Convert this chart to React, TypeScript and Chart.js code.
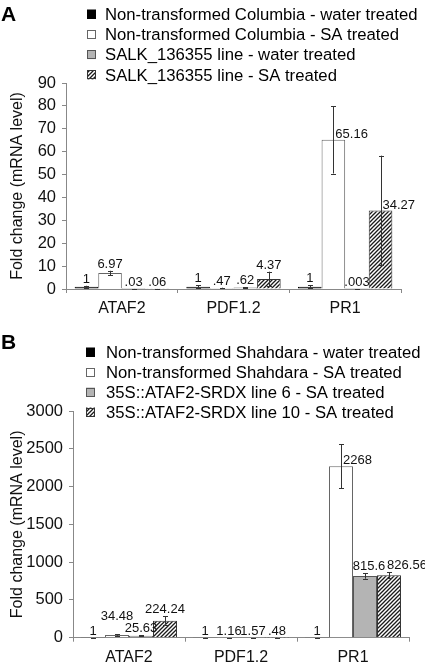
import React, { useEffect, useRef } from 'react';
import { Chart, registerables } from 'chart.js';

Chart.register(...registerables);

const categories = ['ATAF2', 'PDF1.2', 'PR1'];

// Panel A
const legendA = [
  'Non-transformed Columbia - water treated',
  'Non-transformed Columbia - SA treated',
  'SALK_136355 line - water treated',
  'SALK_136355 line - SA treated',
];
const colWater = [1, 1, 1];
const colSA = [6.97, 0.47, 65.16];
const salkWater = [0.03, 0.62, 0.003];
const salkSA = [0.06, 4.37, 34.27];
const colWaterErr = [0.4, 0.6, 0.6];
const colSAErr = [1.0, 0.1, 14.7];
const salkWaterErr = [0.01, 0.15, 0.001];
const salkSAErr = [0.02, 3.2, 24];
const yMaxA = 90;
const yStepA = 10;

// Panel B
const legendB = [
  'Non-transformed Shahdara - water treated',
  'Non-transformed Shahdara - SA treated',
  '35S::ATAF2-SRDX line 6 - SA treated',
  '35S::ATAF2-SRDX line 10 - SA treated',
];
const shaWater = [1, 1, 1];
const shaSA = [34.48, 1.16, 2268];
const line6 = [25.63, 1.57, 815.6];
const line10 = [224.24, 0.48, 826.56];
const shaWaterErr = [0.5, 0.5, 0.5];
const shaSAErr = [8, 0.3, 290];
const line6Err = [5, 0.3, 35];
const line10Err = [60, 0.1, 40];
const yMaxB = 3000;
const yStepB = 500;

const yTitle = 'Fold change (mRNA level)';
const FONT = 'Arial, "Liberation Sans", sans-serif';

function makeHatch(): CanvasPattern | string {
  const c = document.createElement('canvas');
  c.width = 4;
  c.height = 4;
  const g = c.getContext('2d');
  if (!g) return '#888';
  g.fillStyle = '#fff';
  g.fillRect(0, 0, 4, 4);
  g.strokeStyle = '#1a1a1a';
  g.lineWidth = 1.3;
  g.beginPath();
  g.moveTo(0, 4);
  g.lineTo(4, 0);
  g.moveTo(-1, 1);
  g.lineTo(1, -1);
  g.moveTo(3, 5);
  g.lineTo(5, 3);
  g.stroke();
  return g.createPattern(c, 'repeat') || '#888';
}

function fmt(v: number): string {
  let s = String(v);
  if (s.startsWith('0.')) s = s.slice(1);
  return s;
}

const customPlugin = {
  id: 'custom',
  afterDatasetsDraw(chart: any, _args: any, opts: any) {
    const ctx = chart.ctx as CanvasRenderingContext2D;
    const ys = chart.scales.y;
    ctx.save();
    // error bars
    chart.data.datasets.forEach((ds: any, di: number) => {
      const meta = chart.getDatasetMeta(di);
      meta.data.forEach((el: any, i: number) => {
        const v = ds.data[i];
        const e = ds.errors[i];
        const yt = ys.getPixelForValue(v + e);
        const yb = ys.getPixelForValue(Math.max(0, v - e));
        ctx.strokeStyle = '#333';
        ctx.lineWidth = 1;
        ctx.beginPath();
        const x = Math.round(el.x) + 0.5;
        ctx.moveTo(x, yt);
        ctx.lineTo(x, yb);
        ctx.moveTo(x - 2.5, Math.round(yt) + 0.5);
        ctx.lineTo(x + 2.5, Math.round(yt) + 0.5);
        ctx.moveTo(x - 2.5, Math.round(yb) + 0.5);
        ctx.lineTo(x + 2.5, Math.round(yb) + 0.5);
        ctx.stroke();
      });
    });
    // value labels
    ctx.font = `13px ${FONT}`;
    ctx.fillStyle = '#111';
    ctx.textBaseline = 'alphabetic';
    const nudges = opts.nudges || {};
    chart.data.datasets.forEach((ds: any, di: number) => {
      const meta = chart.getDatasetMeta(di);
      meta.data.forEach((el: any, i: number) => {
        const v = ds.data[i];
        const e = ds.errors[i];
        const yBar = ys.getPixelForValue(v);
        const yErr = ys.getPixelForValue(v + e);
        const nd = nudges[`${di}-${i}`] || [0, 0];
        const txt = fmt(v);
        if (yBar - yErr > 14) {
          ctx.textAlign = 'left';
          ctx.fillText(txt, el.x + 2 + nd[0], yBar - 2 + nd[1]);
        } else {
          ctx.textAlign = 'center';
          ctx.fillText(txt, el.x + nd[0], Math.min(yBar, yErr) - 3 + nd[1]);
        }
      });
    });
    ctx.restore();
  },
  afterDraw(chart: any, _args: any, opts: any) {
    const ctx = chart.ctx as CanvasRenderingContext2D;
    ctx.save();
    // panel letter
    ctx.font = `bold 21px ${FONT}`;
    ctx.fillStyle = '#000';
    ctx.textAlign = 'left';
    ctx.textBaseline = 'alphabetic';
    ctx.fillText(opts.letter, opts.letterX, opts.letterY);
    // legend
    chart.data.datasets.forEach((ds: any, di: number) => {
      const cy = opts.legendY + di * opts.legendStep;
      const bx = opts.legendX;
      const s = 9;
      ctx.fillStyle = ds.backgroundColor;
      ctx.fillRect(bx, cy - s / 2, s, s);
      ctx.strokeStyle = ds.borderColor;
      ctx.lineWidth = 1;
      ctx.strokeRect(Math.round(bx) + 0.5, Math.round(cy - s / 2) + 0.5, s - 1, s - 1);
      ctx.fillStyle = '#000';
      ctx.font = `16.7px ${FONT}`;
      ctx.textBaseline = 'middle';
      ctx.fillText(ds.label, opts.legendTextX, cy + 1);
    });
    ctx.restore();
  },
};

type PanelCfg = {
  letter: string;
  labels: string[];
  values: number[][];
  errors: number[][];
  yMax: number;
  yStep: number;
  height: number;
  axisLeft: number;
  areaTop: number;
  areaRight: number;
  xAxisHeight: number;
  catPct: number;
  letterY: number;
  legendX: number;
  legendTextX: number;
  legendY: number;
  legendStep: number;
  nudges: Record<string, number[]>;
};

function Panel({ cfg }: { cfg: PanelCfg }) {
  const ref = useRef<HTMLCanvasElement>(null);
  useEffect(() => {
    if (!ref.current) return;
    const hatch = makeHatch();
    const fills = ['#000000', '#ffffff', '#b4b4b4', hatch];
    const borders = ['#000000', '#666666', '#555555', '#333333'];
    const chart = new Chart(ref.current, {
      type: 'bar',
      data: {
        labels: categories,
        datasets: cfg.values.map((vals, i) => ({
          label: cfg.labels[i],
          data: vals,
          errors: cfg.errors[i],
          backgroundColor: fills[i] as any,
          borderColor: borders[i],
          borderWidth: 1,
          barPercentage: 1,
          categoryPercentage: cfg.catPct,
        })) as any,
      },
      options: {
        responsive: false,
        animation: false,
        devicePixelRatio: 1,
        layout: {
          padding: { top: cfg.areaTop, right: 425 - cfg.areaRight, left: 0, bottom: 0 },
        },
        plugins: {
          legend: { display: false },
          tooltip: { enabled: false },
          custom: {
            letter: cfg.letter,
            letterX: 1,
            letterY: cfg.letterY,
            legendX: cfg.legendX,
            legendTextX: cfg.legendTextX,
            legendY: cfg.legendY,
            legendStep: cfg.legendStep,
            nudges: cfg.nudges,
          },
        } as any,
        scales: {
          x: {
            grid: { display: true, drawOnChartArea: false, tickLength: 4, color: '#888', offset: true },
            border: { color: '#888', width: 1 },
            ticks: { font: { family: FONT, size: 16 }, color: '#111', padding: 6, maxRotation: 0 },
            afterFit: (s: any) => {
              s.height = cfg.xAxisHeight;
            },
          },
          y: {
            min: 0,
            max: cfg.yMax,
            ticks: {
              stepSize: cfg.yStep,
              font: { family: FONT, size: 16.5 },
              color: '#111',
              padding: 6,
              callback: (v: any) => String(v),
            },
            grid: { drawOnChartArea: false, tickLength: 4, color: '#888' },
            border: { color: '#888', width: 1 },
            title: {
              display: true,
              text: yTitle,
              font: { family: FONT, size: 16 },
              color: '#111',
              padding: { top: 8, bottom: 0 },
            },
            afterFit: (s: any) => {
              s.width = cfg.axisLeft;
            },
          },
        } as any,
      },
      plugins: [customPlugin as any],
    });
    return () => chart.destroy();
  }, [cfg]);
  return <canvas ref={ref} width={425} height={cfg.height} style={{ display: 'block', width: 425, height: cfg.height }} />;
}

const cfgA: PanelCfg = {
  letter: 'A',
  labels: legendA,
  values: [colWater, colSA, salkWater, salkSA],
  errors: [colWaterErr, colSAErr, salkWaterErr, salkSAErr],
  yMax: yMaxA,
  yStep: yStepA,
  height: 330,
  axisLeft: 66,
  areaTop: 83,
  areaRight: 401,
  xAxisHeight: 41,
  catPct: 0.845,
  letterY: 21,
  legendX: 87,
  legendTextX: 105,
  legendY: 14,
  legendStep: 20.3,
  nudges: {},
};

const cfgB: PanelCfg = {
  letter: 'B',
  labels: legendB,
  values: [shaWater, shaSA, line6, line10],
  errors: [shaWaterErr, shaSAErr, line6Err, line10Err],
  yMax: yMaxB,
  yStep: yStepB,
  height: 332,
  axisLeft: 73,
  areaTop: 81,
  areaRight: 409,
  xAxisHeight: 24.3,
  catPct: 0.857,
  letterY: 19,
  legendX: 86,
  legendTextX: 106,
  legendY: 22,
  legendStep: 20,
  nudges: { '1-0': [0, -11], '2-2': [4, 0], '3-2': [18, 0] },
};

export default function App() {
  return (
    <div style={{ position: 'fixed', left: 0, top: 0, width: 425, height: 662, background: '#fff', overflow: 'hidden' }}>
      <Panel cfg={cfgA} />
      <Panel cfg={cfgB} />
    </div>
  );
}
